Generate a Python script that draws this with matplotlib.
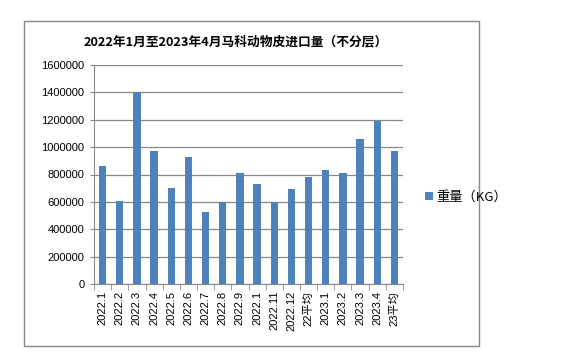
import matplotlib.pyplot as plt
from matplotlib.patches import Rectangle
import numpy as np

plt.rcParams['font.family'] = ['Liberation Sans', 'Noto Sans CJK SC', 'DejaVu Sans']

months = ["2022.1", "2022.2", "2022.3", "2022.4", "2022.5", "2022.6", "2022.7",
          "2022.8", "2022.9", "2022.1", "2022.11", "2022.12", "22平均",
          "2023.1", "2023.2", "2023.3", "2023.4", "23平均"]
weight_kg = [862000, 606000, 1400000, 974000, 704000, 928000, 526000,
             599000, 811000, 731000, 597000, 694000, 782000,
             833000, 811000, 1059000, 1191000, 972000]
yticks = [0, 200000, 400000, 600000, 800000, 1000000, 1200000, 1400000, 1600000]

W, H = 564, 360
fig = plt.figure(figsize=(W / 100, H / 100), dpi=100)

# outer chart border
fig.patches.append(Rectangle((24 / W, 1 - 346 / H), 455 / W, 325 / H,
                             transform=fig.transFigure, fill=False,
                             edgecolor="#888888", linewidth=1))

ax = fig.add_axes([94 / W, 76 / H, 309 / W, 219 / H])
x = np.arange(len(months))
ax.bar(x, weight_kg, width=0.42, color="#4F81BD", label="重量（KG）", zorder=3)

ax.set_xlim(-0.5, len(months) - 0.5)
ax.set_ylim(0, 1600000)
ax.set_yticks(yticks)
ax.set_yticklabels([str(v) for v in yticks], fontsize=8)
ax.yaxis.grid(True, color="#888888", linewidth=0.9, zorder=0)

ax.set_xticks(x)
ax.set_xticklabels(months, rotation=90, fontsize=8, va="top")
ax.set_xticks(np.arange(-0.5, len(months), 1), minor=True)
ax.tick_params(axis="x", which="major", length=0, pad=5)
ax.tick_params(axis="x", which="minor", length=4, color="#888888", direction="out")
ax.tick_params(axis="y", length=3, color="#888888", pad=4)

for s in ["top", "right"]:
    ax.spines[s].set_visible(False)
for s in ["left", "bottom"]:
    ax.spines[s].set_color("#888888")

fig.text(236 / W, 1 - 42 / H, "2022年1月至2023年4月马科动物皮进口量（不分层）",
         ha="center", va="center", fontsize=9.2, fontweight="bold",
         family=["Noto Sans CJK SC", "DejaVu Sans"])

fig.legend(loc="center left", bbox_to_anchor=(413 / W, 1 - 197 / H),
           frameon=False, handlelength=0.6, handleheight=0.6,
           handletextpad=0.3,
           prop={"family": ["Noto Sans CJK SC", "DejaVu Sans"], "size": 9.5})

fig.savefig("out.png", dpi=100, facecolor="white")
